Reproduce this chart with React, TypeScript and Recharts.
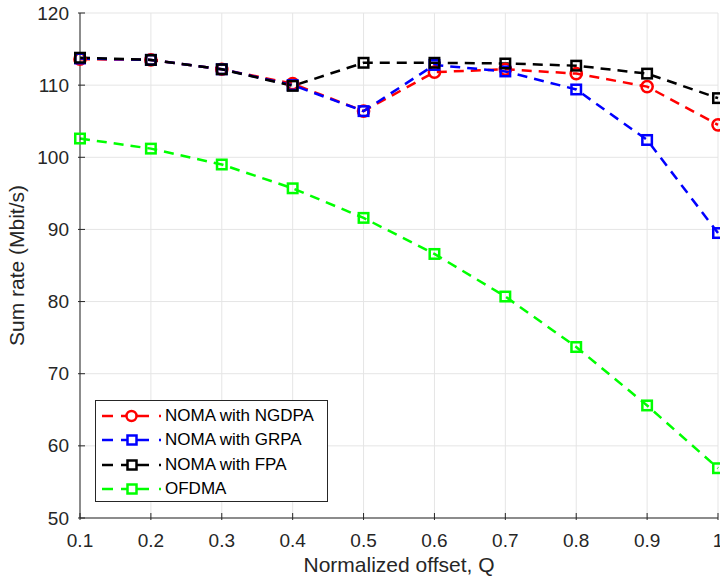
import React from "react";
import { LineChart, Line, XAxis, YAxis, CartesianGrid } from "recharts";

const xValues = [0.1, 0.2, 0.3, 0.4, 0.5, 0.6, 0.7, 0.8, 0.9, 1.0];
const ngdpa = [113.6, 113.5, 112.2, 110.2, 106.4, 111.8, 112.2, 111.6, 109.8, 104.5];
const grpa = [113.7, 113.5, 112.2, 110.0, 106.4, 112.8, 111.9, 109.4, 102.4, 89.5];
const fpa = [113.8, 113.5, 112.2, 109.9, 113.1, 113.1, 113.0, 112.7, 111.6, 108.2];
const ofdma = [102.6, 101.2, 99.0, 95.7, 91.6, 86.6, 80.7, 73.7, 65.6, 56.9];
const xTicks = [0.1, 0.2, 0.3, 0.4, 0.5, 0.6, 0.7, 0.8, 0.9, 1.0];
const yTicks = [50, 60, 70, 80, 90, 100, 110, 120];
const seriesNames = ["NOMA with NGDPA", "NOMA with GRPA", "NOMA with FPA", "OFDMA"];
const seriesColors = ["#ff0000", "#0000ff", "#000000", "#00ff00"];

const data = xValues.map((x, i) => ({
  x,
  ngdpa: ngdpa[i],
  grpa: grpa[i],
  fpa: fpa[i],
  ofdma: ofdma[i],
}));

const FONT = "'Liberation Sans', Arial, Helvetica, sans-serif";
const AX = "#262626";
const DASH = "10 7";
const SW = 2.5;

const squareDot = (color: string) => (props: any) => {
  const { cx, cy, index } = props;
  if (cx == null || cy == null) return <g key={"e" + index} />;
  return (
    <rect
      key={"s" + index}
      x={cx - 4.75}
      y={cy - 4.75}
      width={9.5}
      height={9.5}
      fill="none"
      stroke={color}
      strokeWidth={SW}
    />
  );
};

const circleDot = (color: string) => (props: any) => {
  const { cx, cy, index } = props;
  if (cx == null || cy == null) return <g key={"e" + index} />;
  return <circle key={"c" + index} cx={cx} cy={cy} r={5.6} fill="none" stroke={color} strokeWidth={SW} />;
};

const fmtX = (v: number) => (Math.abs(v - 1) < 1e-9 ? "1" : v.toFixed(1));

const YTickLeft = (props: any) => {
  const { x, y, payload } = props;
  return (
    <g>
      <line x1={x} y1={y} x2={x + 7} y2={y} stroke={AX} strokeWidth={1} />
      <text x={x - 9} y={y} textAnchor="end" dominantBaseline="central" fontSize={19} fill={AX} fontFamily={FONT}>
        {payload.value}
      </text>
    </g>
  );
};

const YTickRight = (props: any) => {
  const { x, y } = props;
  return <line x1={x} y1={y} x2={x - 7} y2={y} stroke={AX} strokeWidth={1} />;
};

const XTickBottom = (props: any) => {
  const { x, y, payload } = props;
  return (
    <g>
      <line x1={x} y1={y} x2={x} y2={y - 7} stroke={AX} strokeWidth={1} />
      <text x={x} y={y + 20} textAnchor="middle" dominantBaseline="central" fontSize={19} fill={AX} fontFamily={FONT}>
        {fmtX(payload.value)}
      </text>
    </g>
  );
};

const XTickTop = (props: any) => {
  const { x, y } = props;
  return <line x1={x} y1={y} x2={x} y2={y + 7} stroke={AX} strokeWidth={1} />;
};

const XLabel = (props: any) => {
  const vb = props.viewBox || {};
  return (
    <text
      x={vb.x + vb.width / 2}
      y={vb.y + 46}
      textAnchor="middle"
      dominantBaseline="central"
      fontSize={21}
      fill={AX}
      fontFamily={FONT}
    >
      Normalized offset, Q
    </text>
  );
};

const YLabel = (props: any) => {
  const vb = props.viewBox || {};
  const cx = 16;
  const cy = vb.y + vb.height / 2;
  return (
    <text
      x={cx}
      y={cy}
      transform={`rotate(-90 ${cx} ${cy})`}
      textAnchor="middle"
      dominantBaseline="central"
      fontSize={21}
      fill={AX}
      fontFamily={FONT}
    >
      Sum rate (Mbit/s)
    </text>
  );
};

const LegendBox = () => (
  <div
    style={{
      position: "absolute",
      left: 95,
      top: 400,
      width: 233,
      height: 102,
      border: "1px solid #262626",
      background: "#ffffff",
      boxSizing: "border-box",
      fontFamily: FONT,
      fontSize: 17,
      color: "#000",
      paddingTop: 3,
    }}
  >
    {seriesNames.map((name, i) => (
      <div key={name} style={{ display: "flex", alignItems: "center", height: 24.3, position: "relative" }}>
        <svg width={67} height={16} style={{ flex: "none" }}>
          <line x1={6} y1={8} x2={17} y2={8} stroke={seriesColors[i]} strokeWidth={SW} />
          <line x1={25} y1={8} x2={53} y2={8} stroke={seriesColors[i]} strokeWidth={SW} />
          <line x1={63} y1={8} x2={65} y2={8} stroke={seriesColors[i]} strokeWidth={SW} />
          {i === 0 ? (
            <circle cx={35.5} cy={8} r={5} fill="#fff" stroke={seriesColors[i]} strokeWidth={SW} />
          ) : (
            <rect x={31.5} y={3.5} width={9} height={9} fill="#fff" stroke={seriesColors[i]} strokeWidth={SW} />
          )}
        </svg>
        <span style={{ marginLeft: 2, whiteSpace: "nowrap" }}>{name}</span>
      </div>
    ))}
  </div>
);

export default function App() {
  return (
    <div style={{ position: "absolute", left: 0, top: 0, width: 720, height: 580, background: "#fff", overflow: "hidden" }}>
      <LineChart
        width={720}
        height={580}
        data={data}
        margin={{ top: 13, right: 2, bottom: 0, left: 0 }}
        style={{ fontFamily: FONT, background: "#fff" }}
      >
        <CartesianGrid xAxisId="b" yAxisId="l" stroke="#e5e5e5" strokeWidth={1} horizontal vertical />
        <XAxis
          xAxisId="b"
          dataKey="x"
          type="number"
          domain={[0.1, 1]}
          ticks={xTicks}
          interval={0}
          height={62}
          stroke={AX}
          tickLine={false}
          tickSize={0}
          tick={<XTickBottom />}
          label={<XLabel />}
        />
        <XAxis
          xAxisId="t"
          orientation="top"
          dataKey="x"
          type="number"
          domain={[0.1, 1]}
          ticks={xTicks}
          interval={0}
          height={0}
          stroke={AX}
          tickLine={false}
          tickSize={0}
          tick={<XTickTop />}
        />
        <YAxis
          yAxisId="l"
          type="number"
          domain={[50, 120]}
          ticks={yTicks}
          interval={0}
          width={80}
          stroke={AX}
          tickLine={false}
          tickSize={0}
          tick={<YTickLeft />}
          label={<YLabel />}
        />
        <YAxis
          yAxisId="r"
          orientation="right"
          type="number"
          domain={[50, 120]}
          ticks={yTicks}
          interval={0}
          width={0}
          stroke={AX}
          tickLine={false}
          tickSize={0}
          tick={<YTickRight />}
        />
        <Line
          xAxisId="b"
          yAxisId="l"
          dataKey="ngdpa"
          name={seriesNames[0]}
          stroke={seriesColors[0]}
          strokeWidth={SW}
          strokeDasharray={DASH}
          dot={circleDot(seriesColors[0])}
          activeDot={false}
          isAnimationActive={false}
        />
        <Line
          xAxisId="b"
          yAxisId="l"
          dataKey="grpa"
          name={seriesNames[1]}
          stroke={seriesColors[1]}
          strokeWidth={SW}
          strokeDasharray={DASH}
          dot={squareDot(seriesColors[1])}
          activeDot={false}
          isAnimationActive={false}
        />
        <Line
          xAxisId="b"
          yAxisId="l"
          dataKey="fpa"
          name={seriesNames[2]}
          stroke={seriesColors[2]}
          strokeWidth={SW}
          strokeDasharray={DASH}
          dot={squareDot(seriesColors[2])}
          activeDot={false}
          isAnimationActive={false}
        />
        <Line
          xAxisId="b"
          yAxisId="l"
          dataKey="ofdma"
          name={seriesNames[3]}
          stroke={seriesColors[3]}
          strokeWidth={SW}
          strokeDasharray={DASH}
          dot={squareDot(seriesColors[3])}
          activeDot={false}
          isAnimationActive={false}
        />
      </LineChart>
      <LegendBox />
    </div>
  );
}
